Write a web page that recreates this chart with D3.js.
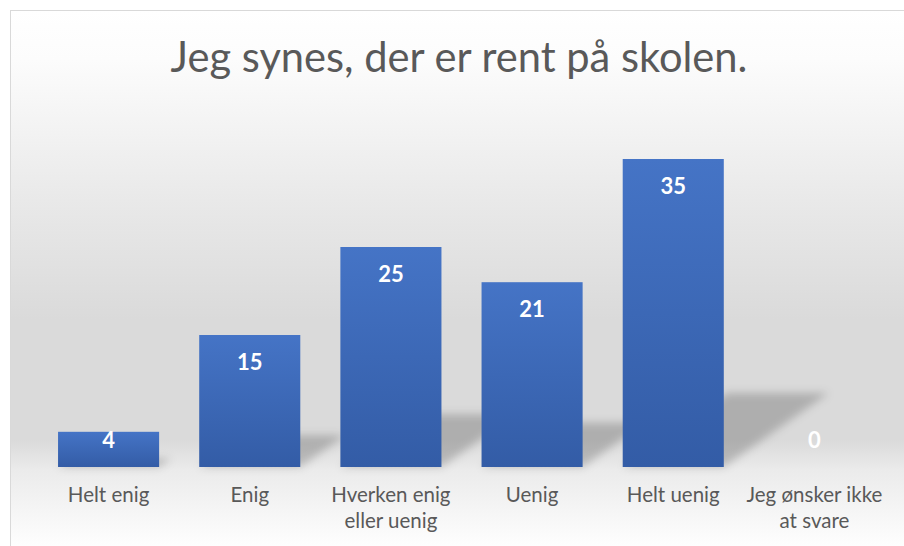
<!DOCTYPE html>
<html>
<head>
<meta charset="utf-8">
<script src="https://cdn.jsdelivr.net/npm/d3@7"></script>
<style>
  html, body { margin: 0; padding: 0; background: #fff; }
  svg { display: block; }
</style>
</head>
<body>
<div id="chart"></div>
<script>
// data
const title = "Jeg synes, der er rent på skolen.";
const categories = ["Helt enig", "Enig", "Hverken enig eller uenig", "Uenig", "Helt uenig", "Jeg ønsker ikke at svare"];
const values = [4, 15, 25, 21, 35, 0];

const width = 904, height = 546;
const margin = { left: 38, right: 19, top: 115, bottom: 79 };
const base = height - margin.bottom;

let svg = d3.select("#chart").append("svg")
  .attr("width", width)
  .attr("height", height);

let defs = svg.append("defs");

// background gradient of the chart area
let bg = defs.append("linearGradient").attr("id", "bg")
  .attr("gradientUnits", "userSpaceOnUse")
  .attr("x1", 0).attr("y1", 10).attr("x2", 0).attr("y2", height);
[[10, "#ffffff"], [60, "#fcfcfc"], [200, "#e9e9e9"], [320, "#dadada"], [440, "#dadada"], [470, "#ebebeb"], [546, "#fefefe"]]
  .forEach(s => bg.append("stop").attr("offset", (s[0] - 10) / (height - 10)).attr("stop-color", s[1]));

// bar gradient
let bar = defs.append("linearGradient").attr("id", "bar")
  .attr("x1", 0).attr("y1", 0).attr("x2", 0).attr("y2", 1);
bar.append("stop").attr("offset", 0).attr("stop-color", "#4574c6");
bar.append("stop").attr("offset", 1).attr("stop-color", "#335ca6");

defs.append("filter").attr("id", "blur")
  .attr("x", "-50%").attr("y", "-50%").attr("width", "200%").attr("height", "200%")
  .append("feGaussianBlur").attr("stdDeviation", 4);

svg.append("rect")
  .attr("x", 10.5).attr("y", 10.5)
  .attr("width", 1000).attr("height", 1000)
  .attr("fill", "url(#bg)")
  .attr("stroke", "#d9d9d9");

// scales
let x = d3.scaleBand().domain(categories).range([margin.left, width - margin.right]).paddingInner(0.284).paddingOuter(0.142);
let y = d3.scaleLinear().domain([0, 40]).range([base, margin.top]);

// shadows cast back-right
svg.append("g").attr("filter", "url(#blur)")
  .selectAll("path").data(values).join("path")
  .attr("d", (d, i) => {
    let x0 = x(categories[i]), x1 = x0 + x.bandwidth();
    let h = base - y(d);
    let dx = 0.34 * h, dy = 0.24 * h;
    return `M${x0},${base}L${x1},${base}L${x1 + dx},${base - dy}L${x0 + dx},${base - dy}Z`;
  })
  .attr("fill", "#000")
  .attr("fill-opacity", 0.2);

// bars
svg.append("g").selectAll("rect").data(values).join("rect")
  .attr("x", (d, i) => x(categories[i]))
  .attr("y", d => y(d))
  .attr("width", x.bandwidth())
  .attr("height", d => base - y(d))
  .attr("fill", "url(#bar)");

// data labels
svg.append("g").selectAll("text").data(values).join("text")
  .attr("x", (d, i) => x(categories[i]) + x.bandwidth() / 2)
  .attr("y", d => Math.min(y(d) + 27, base - 27))
  .attr("dy", "0.36em")
  .attr("text-anchor", "middle")
  .attr("font-family", "Lato, sans-serif")
  .attr("font-weight", "bold")
  .attr("font-size", 22)
  .attr("fill", "#fff")
  .text(d => d);

// category axis
let xAxis = svg.append("g")
  .attr("transform", `translate(0,${base})`)
  .call(d3.axisBottom(x).tickSize(0).tickPadding(0));
xAxis.select(".domain").remove();
xAxis.selectAll("text")
  .attr("font-family", "Lato, sans-serif")
  .attr("font-size", 20.5)
  .attr("fill", "#595959")
  .attr("dy", null)
  .attr("y", 35)
  .each(function (d) {
    // wrap to the band step
    let t = d3.select(this), words = d.split(" "), line = [], lines = [];
    t.text(null);
    let probe = t.append("tspan");
    words.forEach(w => {
      probe.text(line.concat(w).join(" "));
      if (line.length && probe.node().getComputedTextLength() > x.step()) {
        lines.push(line.join(" "));
        line = [w];
      } else line.push(w);
    });
    lines.push(line.join(" "));
    probe.remove();
    lines.forEach((l, k) => t.append("tspan").attr("x", 0).attr("y", 35 + k * 26).text(l));
  });

// title
let tt = svg.append("text")
  .attr("x", 459).attr("y", 72)
  .attr("text-anchor", "middle")
  .attr("font-family", "Lato, sans-serif")
  .attr("font-size", 42)
  .attr("fill", "#595959")
  .text(title);
let tw = tt.node().getComputedTextLength();
tt.attr("font-size", 42 * 577 / tw);
</script>
</body>
</html>
